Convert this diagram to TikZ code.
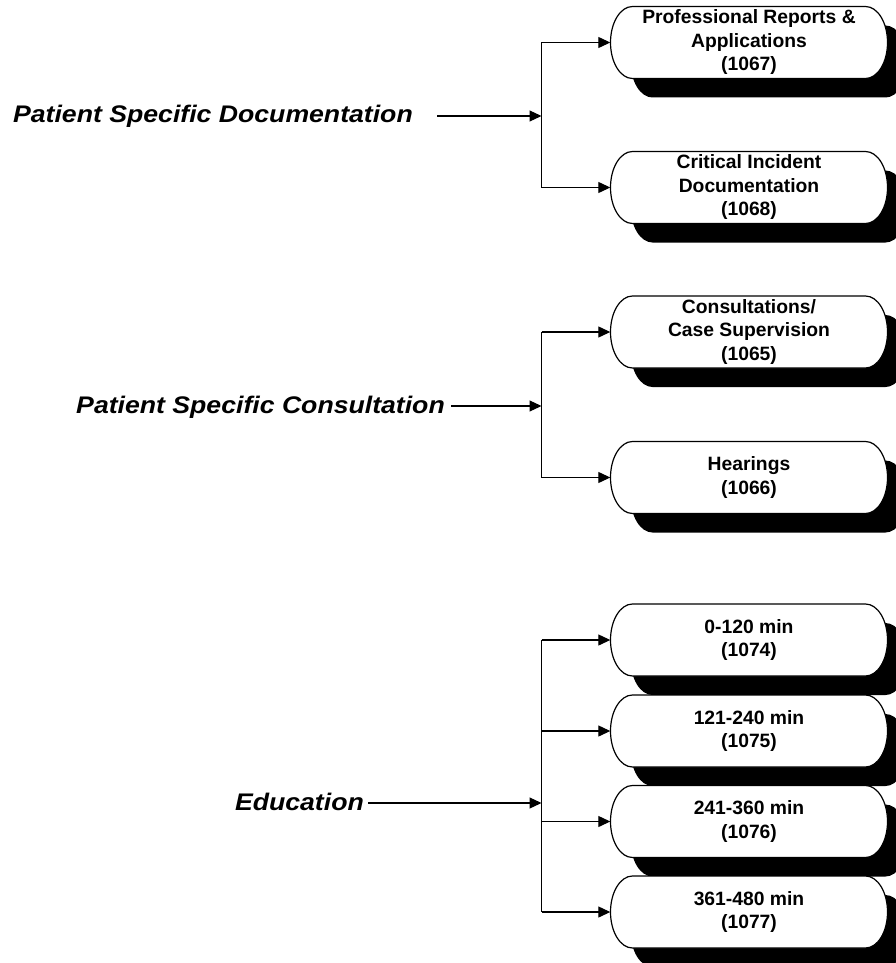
\documentclass[tikz,border=0pt]{standalone}
\usepackage{fontspec}
\setmainfont{Liberation Sans}
\newfontfamily\lblfont[FakeStretch=1.11]{Liberation Sans}
\usetikzlibrary{arrows.meta,calc}
\tikzset{
  boxline/.style={draw=black,fill=white,line width=1.2pt},
  shadowc/.style={fill=black},
  boxtext/.style={font=\bfseries\fontsize{19.3}{23.5}\selectfont,align=center,
    minimum width=277pt,minimum height=72pt,inner sep=0pt},
  lbl/.style={font=\lblfont\bfseries\itshape\fontsize{24}{28}\selectfont,inner sep=0pt,anchor=base east},
  conn/.style={line width=1.2pt},
  arr/.style={line width=1.2pt,-{Triangle[length=12pt,width=11pt]}}
}
\newcommand\pillbox[4]{%
  \fill[shadowc] ({#2+20-116.5},{#3-19+36}) -- ++(233,0)
    arc[start angle=90,end angle=-90,x radius=22,y radius=36] -- ++(-233,0)
    arc[start angle=270,end angle=90,x radius=22,y radius=36] -- cycle;
  \draw[boxline] ({#2-116.5},{#3+36}) -- ++(233,0)
    arc[start angle=90,end angle=-90,x radius=22,y radius=36] -- ++(-233,0)
    arc[start angle=270,end angle=90,x radius=22,y radius=36] -- cycle;
  \node[boxtext] (#1) at (#2,#3) {#4};
}
\begin{document}
\begin{tikzpicture}[x=1pt,y=1pt]
\useasboundingbox (0,0) rectangle (896,-963);
\fill[white] (0,0) rectangle (896,-963);

% group 1
\pillbox{b1}{749}{-42.5}{Professional Reports \&\\Applications\\(1067)}
\pillbox{b2}{749}{-187.5}{Critical Incident\\Documentation\\(1068)}
% group 2
\pillbox{b3}{749}{-332}{Consultations/\\Case Supervision\\(1065)}
\pillbox{b4}{749}{-477.5}{Hearings\\(1066)}
% group 3
\pillbox{b5}{749}{-640}{0-120 min\\(1074)}
\pillbox{b6}{749}{-731}{121-240 min\\(1075)}
\pillbox{b7}{749}{-821.5}{241-360 min\\(1076)}
\pillbox{b8}{749}{-912}{361-480 min\\(1077)}

\coordinate (j1) at (541.5,-116);
\coordinate (j2) at (541.5,-406);
\coordinate (j3) at (541.5,-803);

\node[lbl] (l1) at (413,-123) {Patient Specific Documentation};
\node[lbl] (l2) at (445,-413) {Patient Specific Consultation};
\node[lbl] (l3) at (364,-810) {Education};

\draw[arr,shorten <=24pt] (l1.east |- j1) -- (j1);
\draw[arr,shorten <=6pt] (l2.east |- j2) -- (j2);
\draw[arr,shorten <=4pt] (l3.east |- j3) -- (j3);

\draw[conn] (j1 |- b1.west) -- (j1 |- b2.west);
\draw[arr] (j1 |- b1.west) -- (b1.west);
\draw[arr] (j1 |- b2.west) -- (b2.west);

\draw[conn] (j2 |- b3.west) -- (j2 |- b4.west);
\draw[arr] (j2 |- b3.west) -- (b3.west);
\draw[arr] (j2 |- b4.west) -- (b4.west);

\draw[conn] (j3 |- b5.west) -- (j3 |- b8.west);
\draw[arr] (j3 |- b5.west) -- (b5.west);
\draw[arr] (j3 |- b6.west) -- (b6.west);
\draw[arr] (j3 |- b7.west) -- (b7.west);
\draw[arr] (j3 |- b8.west) -- (b8.west);
\end{tikzpicture}
\end{document}
